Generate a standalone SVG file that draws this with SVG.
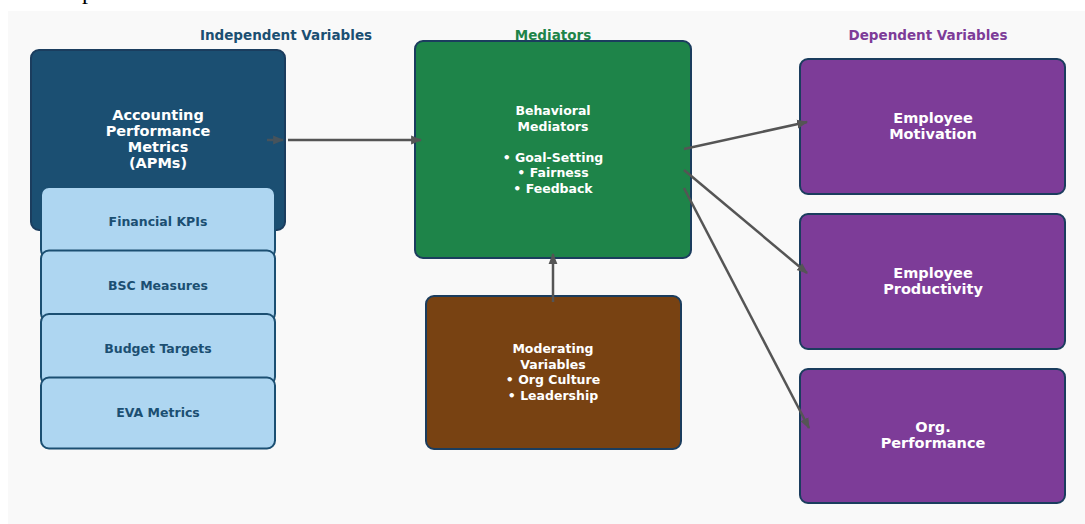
<svg xmlns="http://www.w3.org/2000/svg" width="1085" height="524" viewBox="0 0 1085 524">
<defs>
<marker id="ah" viewBox="0 0 10 10" refX="9" refY="5" markerWidth="4.4" markerHeight="4.4" markerUnits="strokeWidth" orient="auto">
<path d="M0,1 L10,5 L0,9 Z" fill="#555555"/>
</marker>
<style>
.t{font-family:"DejaVu Sans","Liberation Sans",sans-serif;font-weight:bold;text-anchor:middle}
.w{fill:#ffffff}
.hd{font-size:13.5px}
.box{stroke:#1b3d5e;stroke-width:2}
.sub{fill:#aed6f1;stroke:#1b4f72;stroke-width:2}
.st{fill:#1b4f72;font-size:12.5px}
.c{stroke:#555555;stroke-width:2.5;fill:none;marker-end:url(#ah)}
</style>
</defs>
<rect x="0" y="0" width="1085" height="524" fill="#ffffff"/>
<rect x="8" y="11" width="1077" height="513" fill="#f9f9f9"/>
<text x="82" y="-1" font-family="Liberation Serif, serif" font-size="24" fill="#000">p</text>
<text class="t hd" x="286" y="40" fill="#1b4f72">Independent Variables</text>
<text class="t hd" x="553" y="40" fill="#1e8449">Mediators</text>
<text class="t hd" x="928" y="40" fill="#7d3c98">Dependent Variables</text>
<g id="apm">
<rect class="box" x="31" y="50" width="254" height="180" rx="8" fill="#1b4f72"/>
<text class="t w" font-size="14.5" x="158" y="120">Accounting</text>
<text class="t w" font-size="14.5" x="158" y="136">Performance</text>
<text class="t w" font-size="14.5" x="158" y="152">Metrics</text>
<text class="t w" font-size="14.5" x="158" y="168">(APMs)</text>
</g>
<g id="kpi"><rect class="sub" x="41" y="187" width="234" height="71" rx="8"/><text class="t st" x="158" y="226">Financial KPIs</text></g>
<g id="bsc"><rect class="sub" x="41" y="250.5" width="234" height="71" rx="8"/><text class="t st" x="158" y="289.5">BSC Measures</text></g>
<g id="budget"><rect class="sub" x="41" y="314" width="234" height="71" rx="8"/><text class="t st" x="158" y="353">Budget Targets</text></g>
<g id="eva"><rect class="sub" x="41" y="377.5" width="234" height="71" rx="8"/><text class="t st" x="158" y="416.5">EVA Metrics</text></g>
<g id="mediators">
<rect class="box" x="415" y="41" width="276" height="217" rx="8" fill="#1e8449"/>
<text class="t w" font-size="12.5" x="553" y="115">Behavioral</text>
<text class="t w" font-size="12.5" x="553" y="130.5">Mediators</text>
<text class="t w" font-size="12.5" x="553" y="161.5">• Goal-Setting</text>
<text class="t w" font-size="12.5" x="553" y="177">• Fairness</text>
<text class="t w" font-size="12.5" x="553" y="192.5">• Feedback</text>
</g>
<g id="moderators">
<rect class="box" x="426" y="296" width="255" height="153" rx="8" fill="#784212"/>
<text class="t w" font-size="12.5" x="553" y="353">Moderating</text>
<text class="t w" font-size="12.5" x="553" y="368.5">Variables</text>
<text class="t w" font-size="12.5" x="553" y="384">• Org Culture</text>
<text class="t w" font-size="12.5" x="553" y="399.5">• Leadership</text>
</g>
<g id="motivation">
<rect class="box" x="800" y="59" width="265" height="135" rx="8" fill="#7d3c98"/>
<text class="t w" font-size="14.5" x="933" y="123">Employee</text>
<text class="t w" font-size="14.5" x="933" y="139">Motivation</text>
</g>
<g id="productivity">
<rect class="box" x="800" y="214" width="265" height="135" rx="8" fill="#7d3c98"/>
<text class="t w" font-size="14.5" x="933" y="278">Employee</text>
<text class="t w" font-size="14.5" x="933" y="294">Productivity</text>
</g>
<g id="orgperf">
<rect class="box" x="800" y="369" width="265" height="134" rx="8" fill="#7d3c98"/>
<text class="t w" font-size="14.5" x="933" y="432">Org.</text>
<text class="t w" font-size="14.5" x="933" y="448">Performance</text>
</g>
<g id="connectors">
<path d="M267,140 L283,140" stroke="#555555" stroke-width="2.5" fill="none" marker-end="url(#ah)" opacity="0.75"/>
<path class="c" d="M288,140 L421,140"/>
<path class="c" d="M553,302 L553,254"/>
<path class="c" d="M684,149 L807,122"/>
<path class="c" d="M684,170 L807,273"/>
<path class="c" d="M684,188 L809,428"/>
</g>
</svg>
